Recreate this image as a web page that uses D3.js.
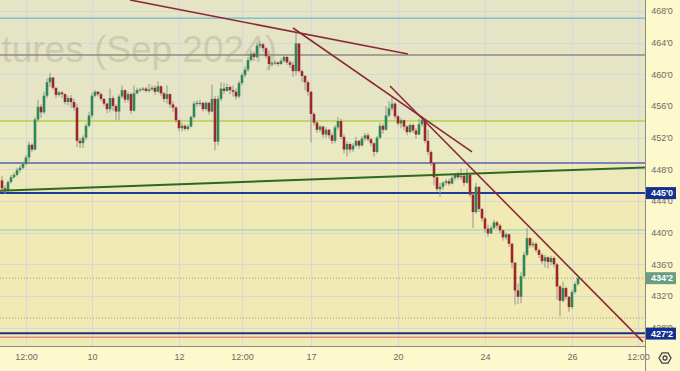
<!DOCTYPE html>
<html>
<head>
<meta charset="utf-8">
<script src="https://cdn.jsdelivr.net/npm/d3@7"></script>
<style>
  body { margin: 0; background: #fff; }
  svg { display: block; font-family: "Liberation Sans", Arial, sans-serif; }
</style>
</head>
<body>
<div id="chart"></div>
<script>
// hourly bars, open = previous close
var firstOpen = 446.6;
var closes = [445.6,445.4,446.4,447.0,447.3,447.9,448.2,448.7,449.5,451.1,
  450.5,454.3,455.9,455.2,457.3,459.0,459.6,458.3,457.4,457.7,
  457.5,456.5,457.0,456.5,455.8,451.6,451.3,452.0,453.5,454.8,
  457.3,457.8,457.5,456.9,456.3,455.6,457.0,456.0,455.3,457.2,
  458.0,456.8,457.5,455.4,457.6,458.0,458.1,458.2,457.9,458.1,
  458.3,457.8,458.5,457.6,456.9,457.5,456.2,455.8,454.2,453.2,
  453.5,453.1,453.4,454.6,456.3,456.4,456.4,455.6,456.4,455.3,
  456.9,451.5,456.9,458.2,457.9,458.4,458.0,457.8,457.2,458.9,
  459.9,460.6,461.8,462.6,462.2,463.6,463.8,463.3,462.3,461.3,
  461.4,461.5,461.3,461.7,462.2,461.5,461.2,460.4,463.9,460.4,
  459.8,459.0,457.8,455.0,453.9,453.0,453.4,452.4,453.0,452.3,
  451.6,453.3,454.1,452.1,450.5,451.2,450.5,451.0,451.6,451.0,
  451.9,452.3,451.8,451.3,450.2,452.0,453.5,453.0,454.8,455.7,
  456.3,454.7,453.8,454.2,453.4,452.7,453.6,452.9,452.4,453.7,
  454.2,451.6,450.2,448.8,447.0,445.5,445.8,446.3,446.5,446.2,
  446.9,447.3,447.0,447.2,446.3,447.3,444.8,442.6,445.8,443.0,
  441.8,440.5,439.9,440.6,441.3,440.9,440.3,439.4,439.8,438.6,
  436.2,432.7,431.9,434.5,437.2,439.3,438.4,438.6,437.8,437.2,
  436.4,436.9,436.3,436.8,436.0,433.2,431.4,433.0,431.9,430.6,
  432.5,433.5,434.25];
var highs = [447.2,446.0,446.6,447.3,447.6,448.2,448.5,449.0,449.8,451.5,
  451.3,454.6,456.8,456.2,457.8,459.5,460.2,459.5,458.3,457.9,
  457.9,457.6,457.3,457.4,456.9,456.3,452.0,452.3,453.8,455.2,
  457.7,458.0,457.9,457.7,457.0,456.4,458.2,457.3,456.2,457.5,
  458.6,458.1,457.8,457.7,458.6,458.3,458.3,458.4,458.4,458.8,
  458.6,458.6,459.1,458.6,457.8,458.6,457.6,456.6,456.0,454.3,
  453.9,453.7,453.7,454.8,456.6,456.7,456.8,456.5,456.6,456.5,
  458.7,457.3,457.3,459.0,458.9,458.8,458.6,458.6,458.2,459.2,
  460.2,461.0,462.2,463.1,462.9,464.0,464.2,464.0,463.5,463.0,
  461.6,461.8,461.6,462.0,462.5,462.3,461.8,461.6,465.3,463.9,
  460.6,459.9,459.2,457.9,455.2,454.1,453.6,453.5,453.3,453.1,
  452.6,453.6,454.6,454.4,452.4,451.5,451.4,451.3,452.1,451.7,
  452.2,452.6,452.6,452.0,451.4,452.2,453.9,453.8,456.0,456.6,
  457.1,456.5,454.9,454.5,454.3,453.6,453.8,453.8,453.2,454.4,
  454.7,454.3,453.0,450.4,448.9,447.2,446.3,446.5,446.8,446.8,
  447.2,447.5,447.7,448.1,447.4,448.1,447.5,445.0,446.3,445.8,
  443.1,442.0,441.0,440.9,441.6,441.5,441.1,440.4,440.0,439.9,
  438.7,436.3,433.6,435.0,437.6,440.6,439.4,438.9,438.8,438.0,
  437.4,437.2,437.0,437.1,437.0,436.2,433.4,433.8,433.2,432.0,
  432.8,433.8,434.5];
var lows = [445.2,444.9,445.2,446.2,446.8,447.1,447.6,448.0,448.5,449.0,
  450.2,450.4,454.0,454.5,455.0,457.0,458.4,458.0,457.0,457.2,
  457.0,456.2,456.1,455.8,455.4,450.8,450.7,450.7,451.7,453.3,
  454.5,457.1,457.2,456.6,456.0,455.1,455.2,455.4,454.2,454.2,
  457.0,456.4,456.5,455.0,455.3,457.5,457.8,457.9,457.7,457.7,
  457.9,457.4,457.7,457.3,456.5,456.3,455.8,455.2,453.9,452.8,
  452.8,452.9,452.9,453.3,454.4,455.9,456.0,455.3,455.4,454.9,
  455.2,450.4,451.0,456.6,457.5,457.8,457.5,457.2,456.8,457.0,
  458.6,459.6,460.3,461.6,461.7,462.0,463.3,462.8,462.0,460.5,
  461.0,461.2,461.0,461.2,461.5,461.2,460.8,459.7,459.9,460.2,
  459.0,458.0,457.3,451.4,453.5,452.6,452.7,452.0,452.0,451.9,
  451.2,451.3,453.0,451.8,450.0,449.6,450.1,450.2,450.8,450.6,
  450.9,451.6,451.5,450.9,449.6,450.0,451.8,452.5,452.9,454.6,
  455.4,454.4,453.5,453.2,452.9,452.3,452.6,452.6,451.9,452.3,
  453.4,451.3,449.8,448.4,446.0,445.2,444.5,445.4,446.0,445.9,
  446.1,446.6,446.7,446.7,445.9,446.2,444.5,440.6,442.4,442.6,
  441.4,440.0,439.5,439.8,440.4,440.5,439.9,439.0,439.1,438.2,
  435.5,430.9,431.0,431.1,434.2,437.0,438.1,438.1,437.5,436.8,
  436.0,435.6,435.5,435.9,435.6,431.5,429.4,431.2,431.5,430.0,
  430.4,432.3,433.3];

var priceTicks = [428,432,436,440,444,448,452,456,460,464,468];
var timeTickIdx = [8,30,59,80,103,132,161,190,212];
var timeTickLabels = ["12:00","10","12","12:00","17","20","24","26","12:00"];

// horizontal levels: cyan, grey, lime, violet, 445 blue, teal, last (dotted), dotted, 427'2 blue, salmon
var levels = [467.1,462.44,454.1,448.8,445.0,440.34,434.25,429.22,427.3,426.8];
// price zones between levels (top to bottom)
var zoneEdges = [480,454.1,448.8,445.0,400];
// trend lines [bar index, price]
var trendA = [[42.67,469.39],[135.33,462.57]];
var trendB = [[97,465.85],[156.67,450.2]];
var trendC = [[129.33,458.53],[213.67,426.21]];
var greenLine = [[-0.67,445.31],[214.3,448.24]];
var priceTags = [445.0,434.25,427.25];
var watermark = "Corn Futures (Sep 2024)";

var W = 680, H = 371, plotW = 645, plotH = 346;

var bars = closes.map(function(c, i) {
  var o = i === 0 ? firstOpen : closes[i - 1];
  return {i: i, o: o, c: c, h: Math.max(highs[i], o, c), l: Math.min(lows[i], o, c)};
});

var x = d3.scaleLinear().domain([0, 212]).range([2, 638]);
var y = d3.scaleLinear().domain([432, 468]).range([296, 11]);

function fmt(p) {
  var whole = Math.floor(p + 1e-9);
  return whole + "'" + Math.round((p - whole) * 8);
}

var svg = d3.select("#chart").append("svg")
    .attr("width", W).attr("height", H);

svg.append("defs").append("clipPath").attr("id", "plotclip")
  .append("rect").attr("width", plotW).attr("height", plotH);

// axis backgrounds
svg.append("rect").attr("x", 0).attr("y", 0).attr("width", W).attr("height", H).attr("fill", "#fdf9cc");

var plot = svg.append("g").attr("clip-path", "url(#plotclip)");

var zoneColors = ["#e5e4c4", "#e9e9c2", "#eee9ba", "#f1eab4"];
plot.selectAll(".zone").data(zoneColors).enter().append("rect")
  .attr("x", 0).attr("width", plotW)
  .attr("y", function(d, k) { return y(zoneEdges[k]); })
  .attr("height", function(d, k) { return y(zoneEdges[k + 1]) - y(zoneEdges[k]); })
  .attr("fill", function(d) { return d; });

// grid
plot.selectAll(".hg").data(priceTicks).enter().append("line")
  .attr("x1", 0).attr("x2", plotW)
  .attr("y1", function(d) { return Math.round(y(d)) + 0.5; })
  .attr("y2", function(d) { return Math.round(y(d)) + 0.5; })
  .attr("stroke", "#d2d8dc").attr("stroke-width", 1);
plot.selectAll(".vg").data(timeTickIdx).enter().append("line")
  .attr("y1", 0).attr("y2", plotH)
  .attr("x1", function(d) { return Math.round(x(d)) + 0.5; })
  .attr("x2", function(d) { return Math.round(x(d)) + 0.5; })
  .attr("stroke", "#d2d8dc").attr("stroke-width", 1);

// watermark
plot.append("text")
  .attr("x", 277).attr("y", 62)
  .attr("text-anchor", "end")
  .style("font-size", "37px")
  .attr("fill", "#8f8f80").attr("fill-opacity", 0.3)
  .text(watermark);

// levels
var levelStyle = [
  {c: "#4aaee0", w: 1}, {c: "#8c8c84", w: 1.5}, {c: "#b3d148", w: 1.5},
  {c: "#5a5fb4", w: 1.5}, {c: "#1d3a9e", w: 2}, {c: "#86d4a6", w: 1.2},
  {c: "#8f9c80", w: 1, dash: "1,2"}, {c: "#8f9c80", w: 1, dash: "1,2"},
  {c: "#1d2f8a", w: 2}, {c: "#e0907a", w: 1.5}
];
plot.selectAll(".lvl").data(levels).enter().append("line")
  .attr("x1", 0).attr("x2", plotW)
  .attr("y1", function(d) { return y(d); })
  .attr("y2", function(d) { return y(d); })
  .attr("stroke", function(d, k) { return levelStyle[k].c; })
  .attr("stroke-width", function(d, k) { return levelStyle[k].w; })
  .attr("stroke-dasharray", function(d, k) { return levelStyle[k].dash || null; });

// candles
var cg = plot.append("g");
cg.selectAll(".wick").data(bars).enter().append("rect")
  .attr("x", function(d) { return x(d.i) - 0.5; })
  .attr("width", 1)
  .attr("y", function(d) { return y(d.h); })
  .attr("height", function(d) { return Math.max(1, y(d.l) - y(d.h)); })
  .attr("fill", "#96968e");
cg.selectAll(".body").data(bars).enter().append("rect")
  .attr("x", function(d) { return x(d.i) - 1.3; })
  .attr("width", 2.6)
  .attr("y", function(d) { return y(Math.max(d.o, d.c)); })
  .attr("height", function(d) { return Math.max(1.2, Math.abs(y(d.o) - y(d.c))); })
  .attr("fill", function(d) { return d.c >= d.o ? "#2e875a" : "#9e262b"; });

// trend lines
var line = d3.line().x(function(d) { return x(d[0]); }).y(function(d) { return y(d[1]); });
plot.append("path").attr("d", line(greenLine)).attr("fill", "none")
  .attr("stroke", "#2c6a1c").attr("stroke-width", 2);
[trendA, trendB, trendC].forEach(function(t) {
  plot.append("path").attr("d", line(t)).attr("fill", "none")
    .attr("stroke", "#8a2a36").attr("stroke-width", 1.6);
});

// price axis
var yAxis = d3.axisRight(y).tickValues(priceTicks).tickFormat(fmt).tickSize(0);
var ya = svg.append("g").attr("transform", "translate(" + plotW + ",0)").call(yAxis);
ya.select(".domain").remove();
ya.selectAll("text").attr("x", 17).attr("text-anchor", "middle")
  .style("font-size", "9px").attr("fill", "#6a6a6a").style("font-family", "inherit");

// time axis
var xAxis = d3.axisBottom(x).tickValues(timeTickIdx)
  .tickFormat(function(d, k) { return timeTickLabels[k]; }).tickSize(0);
var xa = svg.append("g").attr("transform", "translate(0," + plotH + ")").call(xAxis);
xa.select(".domain").remove();
xa.selectAll("text").attr("y", 8).style("font-size", "9px").attr("fill", "#6a6a6a")
  .style("font-family", "inherit");

// separators
svg.append("line").attr("x1", 0).attr("x2", plotW).attr("y1", plotH + 0.5).attr("y2", plotH + 0.5)
  .attr("stroke", "#8a8a86").attr("stroke-width", 1);
svg.append("line").attr("x1", plotW + 0.5).attr("x2", plotW + 0.5).attr("y1", 0).attr("y2", H)
  .attr("stroke", "#8a8a86").attr("stroke-width", 1);

// price tags
var tagColors = ["#15308f", "#6a9e82", "#15308f"];
var tags = svg.selectAll(".tag").data(priceTags).enter().append("g")
  .attr("transform", function(d) { return "translate(" + (plotW + 1) + "," + y(d) + ")"; });
tags.append("rect").attr("x", 0).attr("y", -6).attr("width", 30).attr("height", 12)
  .attr("fill", function(d, k) { return tagColors[k]; });
tags.append("text").attr("x", 16).attr("y", 3.2).attr("text-anchor", "middle")
  .style("font-size", "9px").style("font-weight", "bold").attr("fill", "#fff")
  .text(fmt);

// settings icon
var gear = svg.append("g").attr("transform", "translate(665,358)");
gear.append("path")
  .attr("d", d3.line()(d3.range(6).map(function(k) {
    var a = Math.PI / 3 * k;
    return [6 * Math.cos(a), 6 * Math.sin(a)];
  })) + "Z")
  .attr("fill", "none").attr("stroke", "#444").attr("stroke-width", 1.3);
gear.append("circle").attr("r", 2).attr("fill", "none").attr("stroke", "#444").attr("stroke-width", 1.3);
</script>
</body>
</html>
